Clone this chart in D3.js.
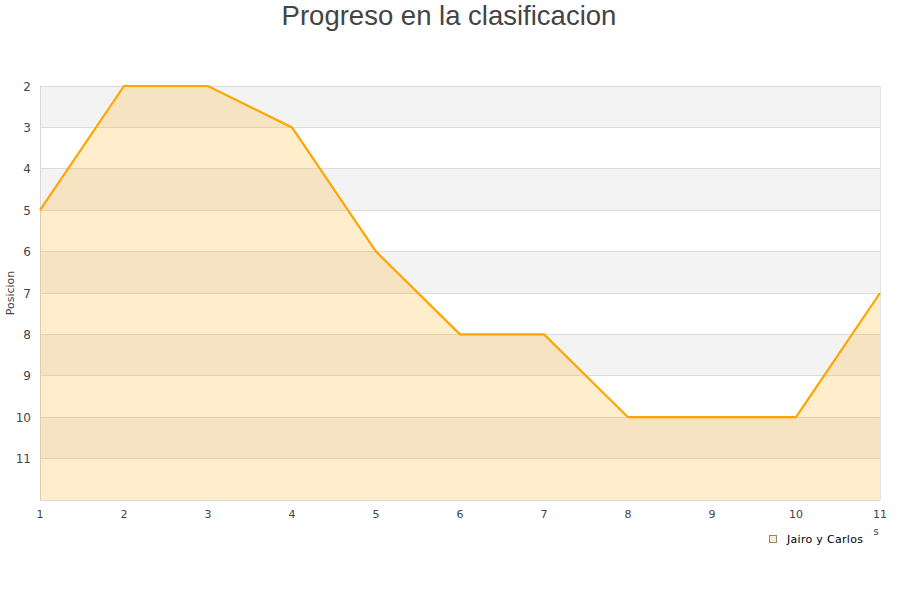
<!DOCTYPE html>
<html><head><meta charset="utf-8">
<script src="https://cdn.jsdelivr.net/npm/d3@7"></script>
<style>body{margin:0;background:#fff}</style>
</head><body>
<svg id="c" width="900" height="600"></svg>
<script>
const jornadas = [1,2,3,4,5,6,7,8,9,10,11];
const posiciones = [5,2,2,3,6,8,8,10,10,10,7];
const yTicks = [2,3,4,5,6,7,8,9,10,11];
const seriesName = "Jairo y Carlos";
const title = "Progreso en la clasificacion";

const svg = d3.select("#c");
const m = {l:40, r:880, t:86, b:500};
const x = d3.scaleLinear().domain([1,11]).range([m.l, m.r]);
const y = d3.scaleLinear().domain([2,12]).range([m.t, m.b]);

const bands = d3.range(2,12);
svg.selectAll("rect.band").data(bands).enter().append("rect")
  .attr("x", m.l).attr("width", m.r-m.l)
  .attr("y", d=>y(d)).attr("height", d=>y(d+1)-y(d))
  .attr("fill", d=> d%2===0 ? "#f3f3f3" : "#ffffff");

svg.selectAll("line.grid").data(d3.range(2,13)).enter().append("line")
  .attr("x1", m.l).attr("x2", m.r)
  .attr("y1", d=>y(d)).attr("y2", d=>y(d))
  .attr("stroke", "#dcdcdc").attr("stroke-width",1).attr("shape-rendering","crispEdges");

svg.append("line").attr("x1",m.l).attr("x2",m.l).attr("y1",m.t).attr("y2",m.b)
  .attr("stroke","#d8d8d8").attr("shape-rendering","crispEdges");
svg.append("line").attr("x1",m.r).attr("x2",m.r).attr("y1",m.t).attr("y2",m.b)
  .attr("stroke","#e4e4e4").attr("shape-rendering","crispEdges");

const data = jornadas.map((j,i)=>({j, p:posiciones[i]}));
const area = d3.area().x(d=>x(d.j)).y0(y(12)).y1(d=>y(d.p));
svg.append("path").datum(data).attr("d", area)
  .attr("fill", "orange").attr("fill-opacity", 0.2);
const line = d3.line().x(d=>x(d.j)).y(d=>y(d.p));
svg.append("path").datum(data).attr("d", line)
  .attr("fill","none").attr("stroke","#ffa500").attr("stroke-width",2.2);

svg.selectAll("text.yt").data(yTicks).enter().append("text")
  .attr("x", 31).attr("y", d=>y(d)+4.5)
  .attr("text-anchor","end")
  .attr("font-family","DejaVu Sans, sans-serif").attr("font-size",12)
  .attr("fill","#444").text(d=>d);

svg.selectAll("text.xt").data(jornadas).enter().append("text")
  .attr("x", d=>x(d)).attr("y", 518)
  .attr("text-anchor","middle")
  .attr("font-family","DejaVu Sans, sans-serif").attr("font-size",11)
  .attr("fill","#444").text(d=>d);

svg.append("text").attr("transform","translate(14,293) rotate(-90)")
  .attr("text-anchor","middle")
  .attr("font-family","DejaVu Sans, sans-serif").attr("font-size",11)
  .attr("fill","#444").text("Posicion");

svg.append("text").attr("x",876).attr("y",535).attr("text-anchor","middle")
  .attr("font-family","DejaVu Sans, sans-serif").attr("font-size",10)
  .attr("fill","#444").text("s");

svg.append("text").attr("x",449).attr("y",25).attr("text-anchor","middle")
  .attr("font-family","Liberation Sans, Arial, sans-serif").attr("font-size",27.5)
  .attr("fill","#444").text(title);

svg.append("rect").attr("x",769.5).attr("y",535.5).attr("width",7).attr("height",7)
  .attr("fill","#feecca").attr("stroke","#888").attr("stroke-width",1);
svg.append("text").attr("x",787).attr("y",543)
  .attr("font-family","DejaVu Sans, sans-serif").attr("font-size",11)
  .attr("letter-spacing",0.3)
  .attr("fill","#000").text(seriesName);
</script>
</body></html>
